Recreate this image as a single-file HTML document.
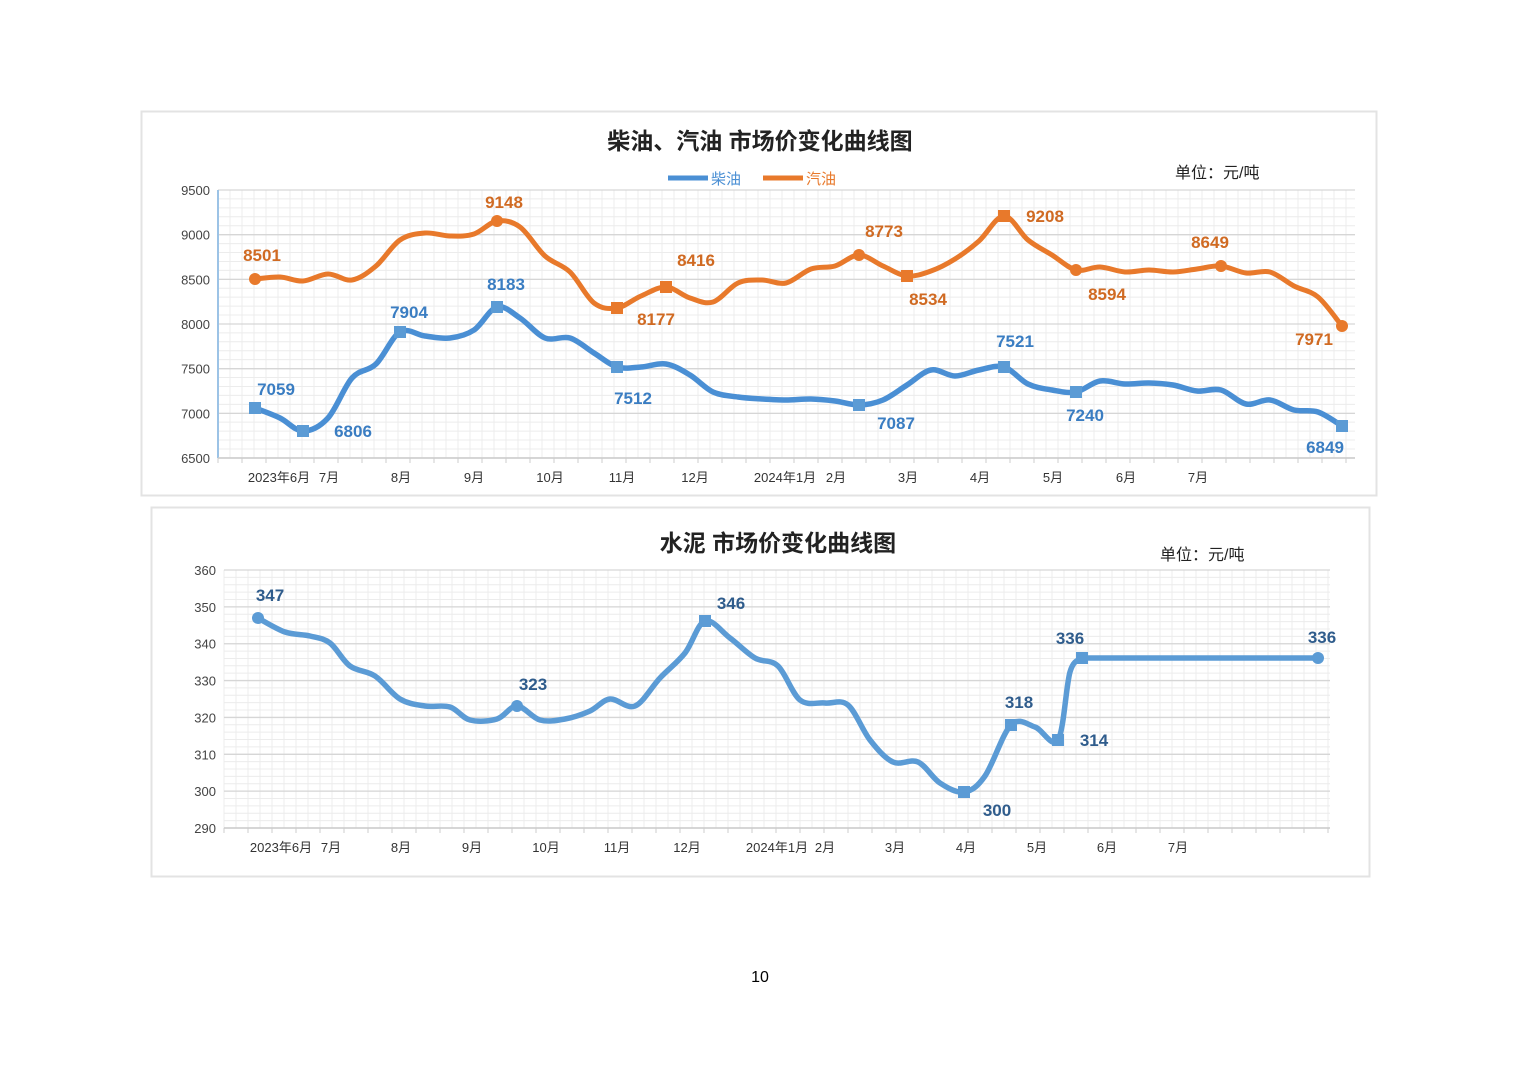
<!DOCTYPE html>
<html><head><meta charset="utf-8"><style>
body{margin:0;background:#fff;width:1520px;height:1074px;overflow:hidden}
svg{display:block}
text{font-family:"Liberation Sans","Noto Sans CJK SC",sans-serif}
</style></head><body>
<svg id="s" width="1520" height="1074" xmlns="http://www.w3.org/2000/svg">
<rect x="141.5" y="111.5" width="1235" height="384" fill="#fff" stroke="#e3e3e3" stroke-width="2"/>
<rect x="151.5" y="507.5" width="1218" height="369" fill="#fff" stroke="#e3e3e3" stroke-width="2"/>
<g id="grid"></g>
<text x="760" y="149" font-size="23" text-anchor="middle" fill="#222" font-weight="bold">柴油、汽油  市场价变化曲线图</text>
<text x="1175" y="178" font-size="16" fill="#222">单位：元/吨</text>
<line x1="668" y1="178" x2="708" y2="178" stroke="#4a8fd4" stroke-width="5"/>
<text x="711" y="184" font-size="15" fill="#4a8fd4">柴油</text>
<line x1="763" y1="178" x2="803" y2="178" stroke="#e8792b" stroke-width="5"/>
<text x="806" y="184" font-size="15" fill="#e8792b">汽油</text>
<text x="778" y="551" font-size="23" text-anchor="middle" fill="#222" font-weight="bold">水泥  市场价变化曲线图</text>
<text x="1160" y="560" font-size="16" fill="#222">单位：元/吨</text>
<text x="760" y="982" font-size="16" text-anchor="middle" fill="#000">10</text>
<g id="lines"></g>
</svg>
<script>
var S=document.getElementById('s'),G=document.getElementById('grid'),L=document.getElementById('lines'),NS='http://www.w3.org/2000/svg';
function el(p,t,a,txt){var e=document.createElementNS(NS,t);for(var k in a)e.setAttribute(k,a[k]);if(txt)e.textContent=txt;p.appendChild(e);return e;}
function grid(x0,x1,y0,y1,majors,labels,minorY,vx){
 for(var x=x0;x<=x1;x+=12)el(G,'line',{x1:x,y1:y0,x2:x,y2:y1,stroke:'#ececec','stroke-width':1});
 for(var y=y0;y<=y1;y+=minorY)el(G,'line',{x1:x0,y1:y,x2:x1,y2:y,stroke:'#ececec','stroke-width':1});
 for(var i=0;i<majors.length;i++){el(G,'line',{x1:x0,y1:majors[i],x2:x1,y2:majors[i],stroke:'#d6d6d6','stroke-width':1.3});
  el(G,'text',{x:x0-8,y:majors[i]+5,'font-size':13,'text-anchor':'end',fill:'#444'},labels[i]);}
 for(var x=x0;x<=x1;x+=24)el(G,'line',{x1:x,y1:y1,x2:x,y2:y1+5,stroke:'#ccc'});
}
var tm=[],tl=[];for(var i=0;i<=6;i++){tm.push(190+i*44.67);tl.push(9500-i*500);}
grid(218,1355,190,458,tm,tl,8.93);
el(G,'line',{x1:218,y1:190,x2:218,y2:458,stroke:'#9cc3e6','stroke-width':2});
el(G,'line',{x1:218,y1:458,x2:1355,y2:458,stroke:'#ccc','stroke-width':1.5});
var bm=[],bl=[];for(var i=0;i<=7;i++){bm.push(570+i*36.86);bl.push(360-i*10);}
grid(224,1330,570,828,bm,bl,7.37);
el(G,'line',{x1:224,y1:828,x2:1330,y2:828,stroke:'#ccc','stroke-width':1.5});
function months(arr,y){arr.forEach(function(m){el(G,'text',{x:m[1],y:y,'font-size':13,'text-anchor':'middle',fill:'#333'},m[0]);});}
months([['2023年6月',279],['7月',329],['8月',401],['9月',474],['10月',550],['11月',622],['12月',695],['2024年1月',785],['2月',836],['3月',908],['4月',980],['5月',1053],['6月',1126],['7月',1198]],482);
months([['2023年6月',281],['7月',331],['8月',401],['9月',472],['10月',546],['11月',617],['12月',687],['2024年1月',777],['2月',825],['3月',895],['4月',966],['5月',1037],['6月',1107],['7月',1178]],852);
function path(p){var d='M'+p[0][0]+','+p[0][1];for(var i=0;i<p.length-1;i++){var a=p[i-1]||p[i],b=p[i],c=p[i+1],e=p[i+2]||c;
 d+=' C'+(b[0]+(c[0]-a[0])/6)+','+(b[1]+(c[1]-a[1])/6)+' '+(c[0]-(e[0]-b[0])/6)+','+(c[1]-(e[1]-b[1])/6)+' '+c[0]+','+c[1];}return d;}
function series(p,col,w,extra){el(L,'path',{d:path(p)+(extra||''),fill:'none',stroke:col,'stroke-width':w,'stroke-linejoin':'round','stroke-linecap':'round'});}
var O=[[255,279],[280,277],[303,281],[328,274],[352,280],[376,266],[400,240],[425,233],[450,236],[474,234],[497,221],[520,227],[545,256],[570,272],[594,303],[617,308],[641,296],[666,287],[690,298],[713,302],[738,283],[762,280],[786,283],[811,269],[835,266],[859,255],[883,266],[907,276],[931,271],[955,259],[979,241],[1004,216],[1028,240],[1052,255],[1076,270],[1100,267],[1125,272],[1149,270],[1173,272],[1197,269],[1221,266],[1246,273],[1270,272],[1294,286],[1318,297],[1342,326]];
var B=[[255,408],[280,418],[303,431],[328,418],[352,378],[376,364],[400,332],[425,336],[450,338],[474,330],[497,307],[520,318],[545,338],[570,338],[594,353],[617,367],[641,367],[666,364],[690,375],[713,392],[738,397],[762,399],[786,400],[811,399],[835,401],[859,405],[883,400],[907,385],[931,370],[955,376],[979,370],[1004,367],[1028,384],[1052,390],[1076,392],[1100,381],[1125,384],[1149,383],[1173,385],[1197,391],[1221,390],[1246,404],[1270,400],[1294,410],[1318,412],[1342,426]];
var C=[[258,618],[285,632],[310,636],[330,643],[350,666],[375,676],[400,699],[425,706],[450,707],[470,720],[497,719],[517,706],[540,720],[565,719],[590,711],[610,699],[635,706],[660,678],[685,653],[705,621],[730,638],[755,658],[778,666],[800,700],[825,703],[848,705],[870,740],[893,762],[918,762],[940,783],[964,792],[985,776],[1011,725],[1035,727],[1058,740],[1070,672],[1082,658]];
series(O,'#e8792b',5);series(B,'#4a8fd4',5.5);series(C,'#5b9bd5',5.5,' L1318,658');
function mk(x,y,col,sq){if(sq)el(L,'rect',{x:x-6,y:y-6,width:12,height:12,fill:col});else el(L,'circle',{cx:x,cy:y,r:6,fill:col});}
function lab(x,y,t,col){el(L,'text',{x:x,y:y+6,'font-size':17,'font-weight':'bold','text-anchor':'middle',fill:col},t);}
var oc='#d06a22',bc='#3a7dc2',dc='#2f5c8c';
[[255,279,0],[497,221,0],[617,308,1],[666,287,1],[859,255,0],[907,276,1],[1004,216,1],[1076,270,0],[1221,266,0],[1342,326,0]].forEach(function(p){mk(p[0],p[1],'#e8792b',p[2]);});
[[255,408],[303,431],[400,332],[497,307],[617,367],[859,405],[1004,367],[1076,392],[1342,426]].forEach(function(p){mk(p[0],p[1],'#5b9bd5',1);});
[[258,618,0],[517,706,0],[705,621,1],[964,792,1],[1011,725,1],[1058,740,1],[1082,658,1],[1318,658,0]].forEach(function(p){mk(p[0],p[1],'#5b9bd5',p[2]);});
[[262,255,'8501'],[504,202,'9148'],[696,260,'8416'],[884,231,'8773'],[1045,216,'9208'],[1210,242,'8649'],[656,319,'8177'],[928,299,'8534'],[1107,294,'8594'],[1314,339,'7971']].forEach(function(p){lab(p[0],p[1],p[2],oc);});
[[276,389,'7059'],[353,431,'6806'],[409,312,'7904'],[506,284,'8183'],[633,398,'7512'],[896,423,'7087'],[1015,341,'7521'],[1085,415,'7240'],[1325,447,'6849']].forEach(function(p){lab(p[0],p[1],p[2],bc);});
[[270,595,'347'],[533,684,'323'],[731,603,'346'],[1019,702,'318'],[1070,638,'336'],[1322,637,'336'],[997,810,'300'],[1094,740,'314']].forEach(function(p){lab(p[0],p[1],p[2],dc);});
</script>
</body></html>
